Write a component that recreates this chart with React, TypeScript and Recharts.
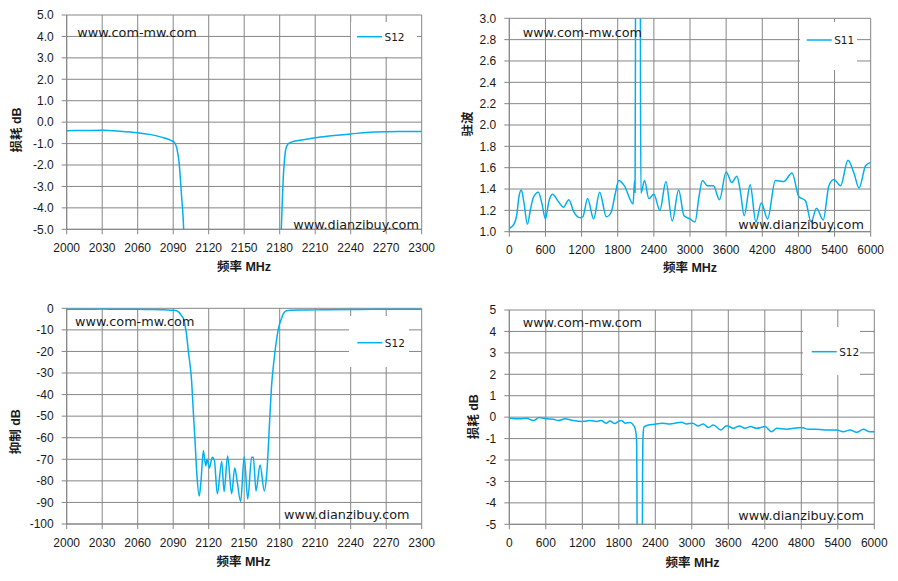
import { CartesianGrid, Legend, Line, LineChart, XAxis, YAxis } from "recharts";

// S12, 2000–2300 MHz (same trace for the loss and the rejection view)
const narrowFreq = [
  2000, 2015, 2030, 2045, 2060, 2070, 2080, 2088, 2091, 2093, 2095, 2097, 2099,
  2100, 2101, 2102.8, 2105.6, 2107, 2108.5, 2110, 2112, 2113.5, 2115.5, 2117.5,
  2118.6, 2120.6, 2123, 2124.8, 2127.3, 2131, 2133, 2136, 2139.4, 2142, 2144,
  2147, 2150, 2153, 2156.3, 2157.7, 2160, 2163.4, 2167, 2169, 2171.8, 2173,
  2175, 2177.5, 2179.5, 2181, 2182, 2183, 2184, 2185, 2187, 2190, 2200, 2210,
  2220, 2240, 2260, 2280, 2300,
];
const narrowS12 = [
  -0.4, -0.39, -0.38, -0.42, -0.49, -0.57, -0.7, -0.85, -0.95, -1.2, -1.9, -3.4,
  -5.3, -8, -11, -20, -34, -48, -62, -77, -87, -80, -66, -73, -70, -74, -69,
  -70.5, -86, -71, -85, -68.5, -86, -74, -80, -89.6, -68.8, -88.4, -69, -69,
  -84.6, -72.6, -84.7, -77, -49, -37, -25, -14, -8, -5.5, -4, -2.6, -1.8, -1.3,
  -1.02, -0.93, -0.82, -0.73, -0.66, -0.55, -0.46, -0.44, -0.44,
];

// S11 VSWR, 0–6000 MHz
const s11Freq = [
  0, 78, 122, 161, 200, 244, 300, 355, 400, 483, 539, 600, 655, 717, 817, 900,
  989, 1067, 1178, 1222, 1300, 1400, 1500, 1611, 1689, 1761, 1817, 1911, 2055,
  2080, 2088, 2094, 2097, 2100, 2170, 2175, 2178, 2186, 2245, 2317, 2400, 2500,
  2600, 2705, 2811, 2900, 3000, 3083, 3150, 3206, 3289, 3389, 3489, 3600, 3694,
  3778, 3833, 3900, 3999, 4094, 4183, 4289, 4417, 4556, 4694, 4806, 4917, 5011,
  5100, 5211, 5306, 5389, 5500, 5622, 5722, 5806, 5917, 6000,
];
const s11Vswr = [
  1.03, 1.07, 1.15, 1.33, 1.39, 1.27, 1.07, 1.22, 1.32, 1.37, 1.27, 1.12, 1.28,
  1.35, 1.28, 1.23, 1.3, 1.19, 1.13, 1.14, 1.31, 1.12, 1.37, 1.14, 1.18, 1.36,
  1.48, 1.43, 1.26, 1.48, 1.37, 2.6, 4, 10, 10, 4, 2.4, 1.36, 1.48, 1.31, 1.35,
  1.2, 1.47, 1.1, 1.39, 1.15, 1.12, 1.09, 1.33, 1.48, 1.43, 1.43, 1.3, 1.56,
  1.46, 1.52, 1.39, 1.15, 1.44, 1.09, 1.27, 1.12, 1.48, 1.47, 1.55, 1.33, 1.29,
  1.09, 1.22, 1.11, 1.43, 1.49, 1.43, 1.67, 1.55, 1.41, 1.62, 1.65,
];

// S12, 0–6000 MHz
const wideFreq = [
  0, 175, 285, 395, 493, 614, 723, 805, 915, 1052, 1205, 1326, 1436, 1507, 1590,
  1655, 1737, 1792, 1847, 1902, 1984, 2039, 2066, 2083, 2094, 2098, 2101, 2110,
  2180, 2187, 2190, 2194, 2200, 2214, 2285, 2395, 2505, 2614, 2724, 2833, 2915,
  3014, 3107, 3189, 3272, 3354, 3480, 3573, 3682, 3781, 3874, 3967, 4066, 4203,
  4312, 4395, 4559, 4669, 4806, 4915, 5025, 5189, 5381, 5491, 5600, 5710, 5820,
  5929, 6000,
];
const wideS12 = [
  -0.05, -0.08, -0.05, -0.16, -0.02, -0.08, -0.1, -0.16, -0.08, -0.16, -0.2,
  -0.16, -0.2, -0.16, -0.28, -0.18, -0.3, -0.2, -0.16, -0.28, -0.25, -0.37,
  -0.52, -0.76, -1.24, -3, -6, -30, -30, -6, -3, -1.5, -0.8, -0.45, -0.37, -0.33,
  -0.28, -0.32, -0.28, -0.24, -0.32, -0.28, -0.41, -0.32, -0.48, -0.37, -0.6,
  -0.4, -0.52, -0.41, -0.52, -0.44, -0.52, -0.44, -0.68, -0.52, -0.56, -0.52,
  -0.48, -0.57, -0.56, -0.6, -0.6, -0.68, -0.6, -0.71, -0.57, -0.68, -0.68,
];

const narrowTicks = [2000, 2030, 2060, 2090, 2120, 2150, 2180, 2210, 2240, 2270, 2300];
const wideTicks = [0, 600, 1200, 1800, 2400, 3000, 3600, 4200, 4800, 5400, 6000];
const lossTicks = [-5, -4, -3, -2, -1, 0, 1, 2, 3, 4, 5];
const vswrTicks = [1.0, 1.2, 1.4, 1.6, 1.8, 2.0, 2.2, 2.4, 2.6, 2.8, 3.0];
const rejectionTicks = [-100, -90, -80, -70, -60, -50, -40, -30, -20, -10, 0];

const LINE = "#00B0F0";
const GRID = "#868686";
const TICK_FONT = "'Liberation Sans', Arial, sans-serif";
const TITLE_FONT = "'Liberation Sans', 'Noto Sans CJK SC', sans-serif";
const MARK_FONT = "'DejaVu Sans', Verdana, sans-serif";

type Row = { f: number; v: number };
const toRows = (freq: number[], values: number[]): Row[] =>
  freq.map((f, i) => ({ f, v: values[i] }));

type Box = { x: number; y: number; w: number; h: number; lineX: number; lineY: number };

type PanelProps = {
  left: number;
  top: number;
  width: number;
  height: number;
  plot: { left: number; top: number; right: number; bottom: number };
  rows: Row[];
  series: string;
  xTicks: number[];
  yTicks: number[];
  yFormat: (v: number) => string;
  yTitle: { text: string; x: number; y: number };
  xTitle: { x: number; y: number };
  legend: Box;
  marks: { top: [number, number]; bottom: [number, number] };
};

const titleText = (text: string, x: number, y: number, rotate: boolean) => () => (
  <text
    x={x}
    y={y}
    transform={rotate ? `rotate(-90 ${x} ${y})` : undefined}
    textAnchor="middle"
    dominantBaseline="central"
    fill="#1a1a1a"
    style={{ fontFamily: TITLE_FONT, fontSize: 12.5, fontWeight: 700 }}
  >
    {text}
  </text>
);

function LegendBox({ name, box }: { name: string; box: Box }) {
  return (
    <svg width={box.w} height={box.h} style={{ display: "block", background: "#fff" }}>
      <line
        x1={box.lineX}
        x2={box.lineX + 25}
        y1={box.lineY}
        y2={box.lineY}
        stroke={LINE}
        strokeWidth={1.5}
      />
      <text
        x={box.lineX + 27.5}
        y={box.lineY}
        dominantBaseline="central"
        fill="#1a1a1a"
        style={{ fontFamily: MARK_FONT, fontSize: 10.5 }}
      >
        {name}
      </text>
    </svg>
  );
}

function Watermark({ text, at }: { text: string; at: [number, number] }) {
  return (
    <div
      style={{
        position: "absolute",
        left: at[0],
        top: at[1] - 7.5,
        lineHeight: "15px",
        fontSize: 12.8,
        fontFamily: MARK_FONT,
        color: "#1a1a1a",
        whiteSpace: "nowrap",
        pointerEvents: "none",
      }}
    >
      {text}
    </div>
  );
}

function Panel(p: PanelProps) {
  const xAxisHeight = 30;
  const tick = { fill: "#1a1a1a", fontSize: 12, fontFamily: TICK_FONT };
  return (
    <div style={{ position: "absolute", left: p.left, top: p.top, width: p.width, height: p.height }}>
      <LineChart
        width={p.width}
        height={p.height}
        data={p.rows}
        margin={{
          top: p.plot.top,
          right: p.width - p.plot.right,
          bottom: p.height - p.plot.bottom - xAxisHeight,
          left: 0,
        }}
      >
        <CartesianGrid stroke={GRID} strokeWidth={1} />
        <XAxis
          type="number"
          dataKey="f"
          domain={[p.xTicks[0], p.xTicks[p.xTicks.length - 1]]}
          ticks={p.xTicks}
          interval={0}
          height={xAxisHeight}
          tickSize={5}
          tickMargin={9}
          stroke={GRID}
          tick={tick}
          label={titleText("频率 MHz", p.xTitle.x, p.xTitle.y, false)}
        />
        <YAxis
          type="number"
          domain={[p.yTicks[0], p.yTicks[p.yTicks.length - 1]]}
          ticks={p.yTicks}
          interval={0}
          allowDataOverflow
          width={p.plot.left}
          tickSize={5}
          tickMargin={8}
          tickFormatter={p.yFormat}
          stroke={GRID}
          tick={tick}
          label={titleText(p.yTitle.text, p.yTitle.x, p.yTitle.y, true)}
        />
        <Legend
          layout="horizontal"
          verticalAlign="middle"
          align="center"
          wrapperStyle={{ left: p.legend.x, top: p.legend.y, width: p.legend.w, height: p.legend.h }}
          content={() => <LegendBox name={p.series} box={p.legend} />}
        />
        <Line
          type="monotone"
          dataKey="v"
          name={p.series}
          stroke={LINE}
          strokeWidth={1.5}
          dot={false}
          activeDot={false}
          isAnimationActive={false}
        />
      </LineChart>
      <Watermark text="www.com-mw.com" at={p.marks.top} />
      <Watermark text="www.dianzibuy.com" at={p.marks.bottom} />
    </div>
  );
}

const oneDecimal = (v: number) => v.toFixed(1);
const whole = (v: number) => String(v);

export default function App() {
  const narrowRows = toRows(narrowFreq, narrowS12);
  return (
    <div
      style={{
        position: "absolute",
        left: 0,
        top: 0,
        width: 898,
        height: 581,
        background: "#fff",
        overflow: "hidden",
      }}
    >
      <Panel
        left={0}
        top={0}
        width={440}
        height={290}
        plot={{ left: 66.7, top: 15, right: 421.7, bottom: 229.3 }}
        rows={narrowRows}
        series="S12"
        xTicks={narrowTicks}
        yTicks={lossTicks}
        yFormat={oneDecimal}
        yTitle={{ text: "损耗 dB", x: 16.7, y: 130 }}
        xTitle={{ x: 244, y: 266.7 }}
        legend={{ x: 351, y: 22, w: 66, h: 35, lineX: 6, lineY: 14.7 }}
        marks={{ top: [77.3, 32.7], bottom: [293.3, 224.3] }}
      />
      <Panel
        left={450}
        top={0}
        width={448}
        height={290}
        plot={{ left: 59.3, top: 18.3, right: 420.7, bottom: 231.7 }}
        rows={toRows(s11Freq, s11Vswr)}
        series="S11"
        xTicks={wideTicks}
        yTicks={vswrTicks}
        yFormat={oneDecimal}
        yTitle={{ text: "驻波", x: 17.5, y: 124 }}
        xTitle={{ x: 240, y: 267.5 }}
        legend={{ x: 350, y: 22, w: 57, h: 48, lineX: 6.7, lineY: 18 }}
        marks={{ top: [72.7, 32.7], bottom: [288.3, 224] }}
      />
      <Panel
        left={0}
        top={290}
        width={440}
        height={291}
        plot={{ left: 66.7, top: 18.3, right: 421.7, bottom: 234 }}
        rows={narrowRows}
        series="S12"
        xTicks={narrowTicks}
        yTicks={rejectionTicks}
        yFormat={whole}
        yTitle={{ text: "抑制 dB", x: 15.8, y: 141.7 }}
        xTitle={{ x: 243.5, y: 271.7 }}
        legend={{ x: 349, y: 26, w: 60, h: 51, lineX: 8.3, lineY: 26.7 }}
        marks={{ top: [75, 31], bottom: [284, 224.3] }}
      />
      <Panel
        left={450}
        top={290}
        width={448}
        height={291}
        plot={{ left: 59.3, top: 20, right: 424.3, bottom: 234.3 }}
        rows={toRows(wideFreq, wideS12)}
        series="S12"
        xTicks={wideTicks}
        yTicks={lossTicks}
        yFormat={whole}
        yTitle={{ text: "损耗 dB", x: 24, y: 126.7 }}
        xTitle={{ x: 242.5, y: 272.7 }}
        legend={{ x: 353, y: 37, w: 57, h: 48, lineX: 8.7, lineY: 24.7 }}
        marks={{ top: [72.7, 32.3], bottom: [288.3, 225] }}
      />
    </div>
  );
}
